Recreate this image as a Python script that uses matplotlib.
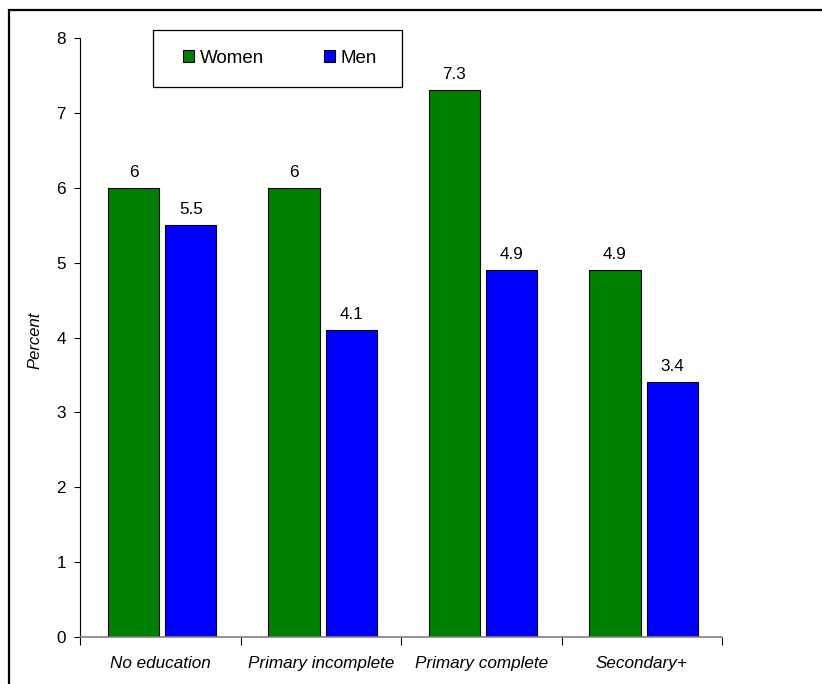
import matplotlib.pyplot as plt
from matplotlib.patches import Rectangle
import numpy as np

plt.rcParams['font.family'] = ['Liberation Sans', 'DejaVu Sans']

# 학력별 비율 (%)
categories = ['No education', 'Primary incomplete', 'Primary complete', 'Secondary+']
women = [6, 6, 7.3, 4.9]
men = [5.5, 4.1, 4.9, 3.4]
women_labels = ['6', '6', '7.3', '4.9']
men_labels = ['5.5', '4.1', '4.9', '3.4']
yticks = [0, 1, 2, 3, 4, 5, 6, 7, 8]

W, H = 822, 684
fs = 12.3
fig = plt.figure(figsize=(W / 100, H / 100), dpi=100)
ax = fig.add_axes([80 / W, 1 - 637 / H, (722 - 80) / W, (637 - 38) / H])

x = np.arange(len(categories))
bw = 0.32
b1 = ax.bar(x - 0.167, women, bw, color='#008000', edgecolor='black', linewidth=0.8, label='Women')
b2 = ax.bar(x + 0.19, men, bw, color='#0000FF', edgecolor='black', linewidth=0.8, label='Men')

for bars, labs in ((b1, women_labels), (b2, men_labels)):
    for r, t in zip(bars, labs):
        ax.annotate(t, (r.get_x() + r.get_width() / 2, r.get_height()),
                    xytext=(0, 8), textcoords='offset points',
                    ha='center', va='baseline', fontsize=fs)

ax.set_xlim(-0.5, 3.5)
ax.set_ylim(0, 8)
ax.set_yticks(yticks)
ax.tick_params(axis='y', direction='out', length=4.5, width=0.8, pad=5.5, labelsize=fs)

# 카테고리 이름은 가운데, 눈금은 구간 경계에
ax.set_xticks(x)
ax.set_xticklabels(categories, fontstyle='italic', fontsize=fs)
ax.set_xticks(np.arange(-0.5, 4, 1), minor=True)
ax.tick_params(axis='x', which='major', length=0, pad=14)
ax.tick_params(axis='x', which='minor', direction='out', length=6, width=0.8, color='black')

for s in ('top', 'right'):
    ax.spines[s].set_visible(False)
ax.spines['left'].set_linewidth(0.8)
ax.spines['bottom'].set_color('#808080')
ax.spines['bottom'].set_linewidth(1.2)

ax.set_ylabel('Percent', fontstyle='italic', fontsize=12)
ax.yaxis.set_label_coords(-0.058, 0.495)

# 범례 상자
fig.patches.append(Rectangle((153 / W, 1 - 87 / H), (402 - 153) / W, (87 - 30) / H,
                             transform=fig.transFigure, fill=False,
                             edgecolor='black', linewidth=0.9))
ax.legend(loc='center', bbox_to_anchor=(280 / W, 1 - 58.5 / H), bbox_transform=fig.transFigure,
          ncol=2, frameon=False, fontsize=13.5, handlelength=0.6, handleheight=0.6,
          handletextpad=0.3, columnspacing=3.2)

# 그림 테두리
fig.patches.append(Rectangle((9 / W, -0.1), 1.1, 1 - 10 / H + 0.1,
                             transform=fig.transFigure, fill=False,
                             edgecolor='black', linewidth=1.6))

fig.savefig('out.png', dpi=100)
